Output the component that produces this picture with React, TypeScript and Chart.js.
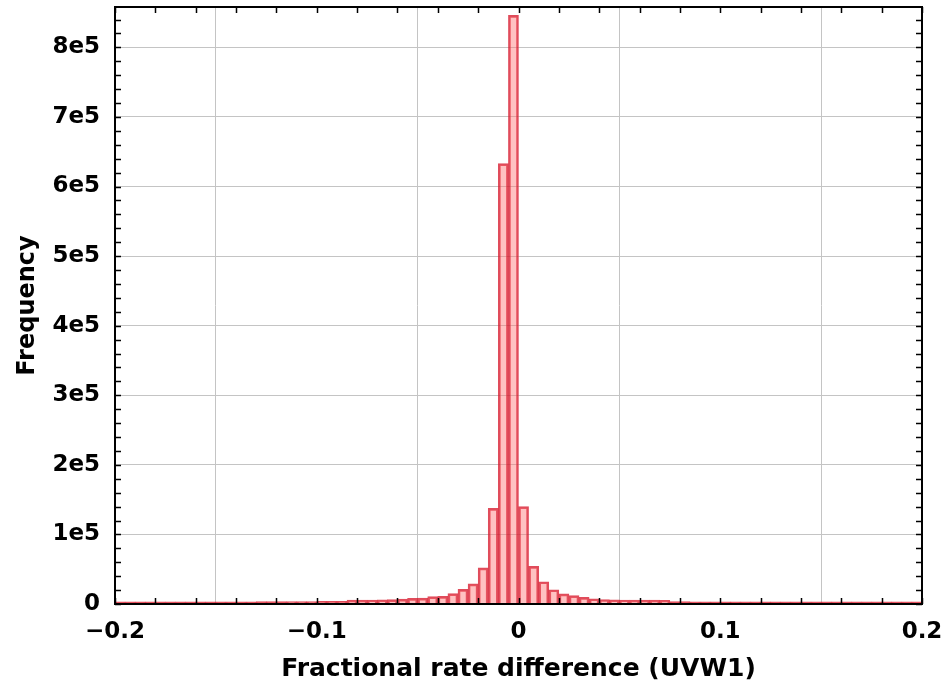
import React, { useEffect, useRef } from "react";
import { Chart, registerables } from "chart.js";
Chart.register(...registerables);

// Histogram bins: start, width, and counts per bin
const binStart = -0.2;
const binWidth = 0.005;
const counts = [
  3000, 3000, 3000, 3000, 3000, 3000, 3000, 3000, 3000, 3000,
  3100, 3100, 3200, 3200, 3300, 3300, 3400, 3500, 3500, 3600,
  3700, 3800, 3900,
  5500, 5600, 5800, 5900, 6200,
  7000, 8000, 8500, 10500, 11000, 15000, 21000, 29000, 52000, 137500,
  633000, 846000,
  140000, 54000, 32000, 20500, 14500, 12000, 9500, 7500, 6500,
  6000, 5800, 5600, 5500, 5500, 5400,
  3300, 3300, 3200, 3200, 3200, 3100, 3100, 3100, 3100, 3000,
  3000, 3000, 3000, 3000, 3000, 3000, 3000, 3000, 3000, 3000,
  3000, 3000, 3000, 3000, 3000,
];

const xTicks = [-0.2, -0.1, 0, 0.1, 0.2];
const xTickLabels = ["\u22120.2", "\u22120.1", "0", "0.1", "0.2"];
const yTicks = [0, 100000, 200000, 300000, 400000, 500000, 600000, 700000, 800000];
const yTickLabels = ["0", "1e5", "2e5", "3e5", "4e5", "5e5", "6e5", "7e5", "8e5"];
const xMinorStep = 0.02;
const yMinorStep = 20000;
const xMin = -0.2;
const xMax = 0.2;
const yMin = 0;
const yMax = 858000;

const xTitle = "Fractional rate difference (UVW1)";
const yTitle = "Frequency";

const FONT = "'DejaVu Sans', sans-serif";

const framePlugin = {
  id: "frame",
  afterDatasetsDraw(chart: any) {
    const { ctx, chartArea, scales } = chart;
    const { left, right, top, bottom } = chartArea;
    const x = scales.x;
    const y = scales.y;
    const tl = 6;
    ctx.save();
    ctx.strokeStyle = "#000";
    ctx.lineWidth = 1.5;
    ctx.beginPath();
    for (let k = 0; ; k++) {
      const v = xMin + k * xMinorStep;
      if (v > xMax + 1e-9) break;
      const px = Math.round(x.getPixelForValue(v)) + 0.5;
      ctx.moveTo(px, bottom);
      ctx.lineTo(px, bottom - tl);
      ctx.moveTo(px, top);
      ctx.lineTo(px, top + tl);
    }
    for (let k = 0; ; k++) {
      const v = yMin + k * yMinorStep;
      if (v > yMax + 1e-9) break;
      const py = Math.round(y.getPixelForValue(v)) + 0.5;
      ctx.moveTo(left, py);
      ctx.lineTo(left + tl, py);
      ctx.moveTo(right, py);
      ctx.lineTo(right - tl, py);
    }
    ctx.stroke();
    ctx.lineWidth = 2;
    ctx.strokeRect(left, top, right - left, bottom - top);
    ctx.restore();
  },
};

const zeroPad = (s: any) => {
  s.paddingLeft = 0;
  s.paddingRight = 0;
  s.paddingTop = 0;
  s.paddingBottom = 0;
};

export default function App() {
  const ref = useRef<HTMLCanvasElement | null>(null);
  useEffect(() => {
    if (!ref.current) return;
    const data = counts.map((c, i) => ({ x: binStart + (i + 0.5) * binWidth, y: c }));
    const chart = new Chart(ref.current, {
      type: "bar",
      data: {
        datasets: [
          {
            data,
            backgroundColor: "rgba(255,110,110,0.42)",
            borderColor: "rgba(215,25,45,0.78)",
            borderWidth: 2,
            barPercentage: 1,
            categoryPercentage: 1,
            grouped: false,
          } as any,
        ],
      },
      options: {
        animation: false,
        responsive: false,
        devicePixelRatio: 1,
        layout: { padding: { left: 0, right: 22, top: 7, bottom: 0 } },
        plugins: { legend: { display: false }, tooltip: { enabled: false } },
        scales: {
          x: {
            type: "linear",
            min: xMin,
            max: xMax,
            offset: false,
            afterFit: (s: any) => {
              s.height = 83;
              zeroPad(s);
            },
            afterBuildTicks: (s: any) => {
              s.ticks = xTicks.map((v) => ({ value: v }));
            },
            ticks: {
              color: "#000",
              padding: 14,
              maxRotation: 0,
              autoSkip: false,
              font: { family: FONT, size: 23, weight: "bold" },
              callback: (v: any) => {
                const i = xTicks.findIndex((t) => Math.abs(t - Number(v)) < 1e-9);
                return i >= 0 ? xTickLabels[i] : "";
              },
            },
            grid: { color: "#c4c4c4", lineWidth: 1, drawTicks: false },
            border: { display: false },
            title: {
              display: true,
              text: xTitle,
              color: "#000",
              font: { family: FONT, size: 25, weight: "bold" },
              padding: { top: 0, bottom: 3 },
            },
          },
          y: {
            type: "linear",
            min: yMin,
            max: yMax,
            afterFit: (s: any) => {
              s.width = 115;
              zeroPad(s);
            },
            afterBuildTicks: (s: any) => {
              s.ticks = yTicks.map((v) => ({ value: v }));
            },
            ticks: {
              color: "#000",
              padding: 15,
              autoSkip: false,
              font: { family: FONT, size: 23, weight: "bold" },
              callback: (v: any) => {
                const i = yTicks.findIndex((t) => Math.abs(t - Number(v)) < 1e-6);
                return i >= 0 ? yTickLabels[i] : "";
              },
            },
            grid: { color: "#c4c4c4", lineWidth: 1, drawTicks: false },
            border: { display: false },
            title: {
              display: true,
              text: yTitle,
              color: "#000",
              font: { family: FONT, size: 24, weight: "bold" },
              padding: { top: 13, bottom: 0 },
            },
          },
        },
      },
      plugins: [framePlugin],
    });
    return () => chart.destroy();
  }, []);
  return (
    <div style={{ position: "absolute", left: 0, top: 0, width: 944, height: 687, background: "#fff" }}>
      <canvas ref={ref} width={944} height={687} />
    </div>
  );
}
